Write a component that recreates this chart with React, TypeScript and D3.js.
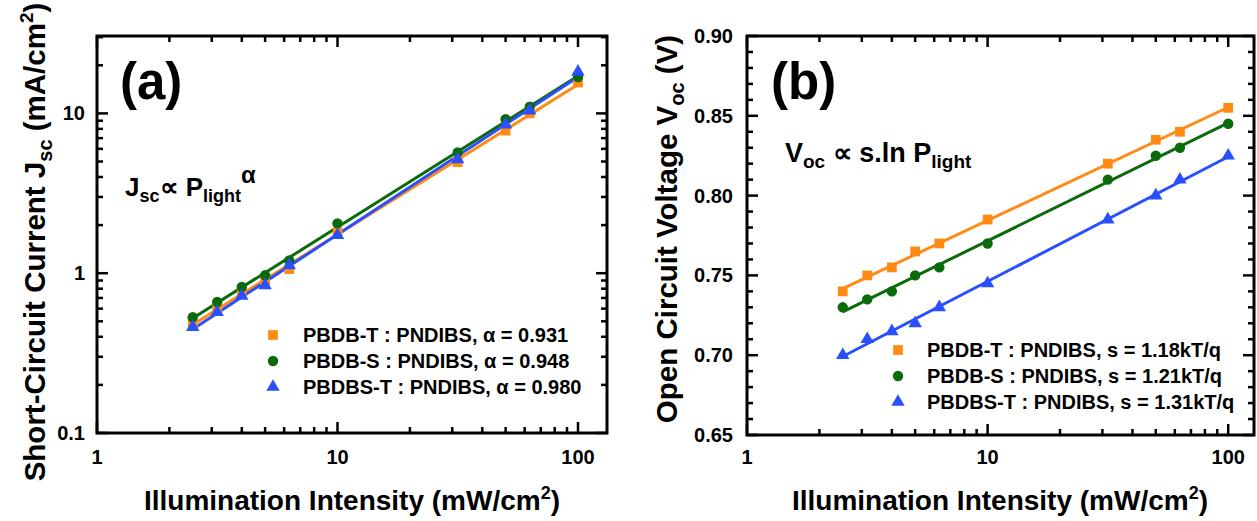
import React from 'react';
import * as d3 from 'd3';

// ---------- data ----------
const intensity = [2.5, 3.16, 4, 5, 6.3, 10, 31.6, 50, 63, 100];

const jscPBDBT = [0.49, 0.6, 0.75, 0.9, 1.06, 1.8, 4.95, 7.8, 10.0, 15.6];
const jscPBDBS = [0.53, 0.66, 0.82, 0.97, 1.2, 2.05, 5.7, 9.2, 11.0, 16.9];
const jscPBDBST = [0.46, 0.57, 0.72, 0.84, 1.12, 1.73, 5.15, 8.5, 10.4, 18.2];

const vocPBDBT = [0.74, 0.75, 0.755, 0.765, 0.77, 0.785, 0.82, 0.835, 0.84, 0.855];
const vocPBDBS = [0.73, 0.735, 0.74, 0.75, 0.755, 0.77, 0.81, 0.825, 0.83, 0.845];
const vocPBDBST = [0.70, 0.71, 0.715, 0.72, 0.73, 0.745, 0.785, 0.80, 0.81, 0.825];

const legendA = ['PBDB-T : PNDIBS, α = 0.931', 'PBDB-S : PNDIBS, α = 0.948', 'PBDBS-T : PNDIBS, α = 0.980'];
const legendB = ['PBDB-T : PNDIBS, s = 1.18kT/q', 'PBDB-S : PNDIBS, s = 1.21kT/q', 'PBDBS-T : PNDIBS, s = 1.31kT/q'];

const xTickLabels = ['1', '10', '100'];
const yTickLabelsA = ['0.1', '1', '10'];
const yTickLabelsB = ['0.65', '0.70', '0.75', '0.80', '0.85', '0.90'];

const colors = ['#FF8A14', '#0B6B0B', '#2A4FFF'];
const shapes = [d3.symbolSquare, d3.symbolCircle, d3.symbolTriangle];
const shapeSizes = [95, 85, 78];

const FONT = "Arial, 'Liberation Sans', Helvetica, sans-serif";

// least squares in (log10 x, f(y))
function fitLine(xs: number[], ys: number[], logY: boolean) {
  const X = xs.map(Math.log10);
  const Y = ys.map((v) => (logY ? Math.log10(v) : v));
  const mx = d3.mean(X)!;
  const my = d3.mean(Y)!;
  let sxy = 0, sxx = 0;
  X.forEach((x, i) => { sxy += (x - mx) * (Y[i] - my); sxx += (x - mx) * (x - mx); });
  const b = sxy / sxx;
  const a = my - b * mx;
  const f = (x: number) => {
    const v = a + b * Math.log10(x);
    return logY ? Math.pow(10, v) : v;
  };
  const x0 = d3.min(xs)!, x1 = d3.max(xs)!;
  return [[x0, f(x0)], [x1, f(x1)]] as [number, number][];
}

function Frame({ x0, x1, y0, y1 }: { x0: number; x1: number; y0: number; y1: number }) {
  return <rect x={x0} y={y0} width={x1 - x0} height={y1 - y0} fill="none" stroke="#000" strokeWidth={3} />;
}

type Tick = { v: number; major: boolean };

function logTicks(lo: number, hi: number): Tick[] {
  const out: Tick[] = [];
  for (let e = Math.floor(Math.log10(lo)); e <= Math.ceil(Math.log10(hi)); e++) {
    const d = Math.pow(10, e);
    for (let k = 1; k <= 9; k++) {
      const v = +(d * k).toPrecision(6);
      if (v >= lo * 0.999 && v <= hi) out.push({ v, major: k === 1 });
    }
  }
  return out;
}

function Panel({
  x, y, xTicks, yTicks, series, yLog,
}: {
  x: d3.ScaleLogarithmic<number, number>;
  y: any;
  xTicks: Tick[];
  yTicks: Tick[];
  series: number[][];
  yLog: boolean;
}) {
  const [x0, x1] = x.range();
  const [y1, y0] = y.range();
  const MAJ = 11, MIN = 6;
  const line = d3.line<[number, number]>().x((d) => x(d[0])).y((d) => y(d[1]));
  return (
    <g>
      {xTicks.map((t, i) => {
        const px = x(t.v);
        const L = t.major ? MAJ : MIN;
        return (
          <g key={'xt' + i} stroke="#000" strokeWidth={2.5}>
            <line x1={px} x2={px} y1={y1} y2={y1 - L} />
            <line x1={px} x2={px} y1={y0} y2={y0 + L} />
          </g>
        );
      })}
      {yTicks.map((t, i) => {
        const py = y(t.v);
        const L = t.major ? MAJ : MIN;
        return (
          <g key={'yt' + i} stroke="#000" strokeWidth={2.5}>
            <line x1={x0} x2={x0 + L} y1={py} y2={py} />
            <line x1={x1} x2={x1 - L} y1={py} y2={py} />
          </g>
        );
      })}
      {series.map((s, i) => (
        <path key={'l' + i} d={line(fitLine(intensity, s, yLog))!} fill="none" stroke={colors[i]} strokeWidth={3} />
      ))}
      {series.map((s, i) =>
        s.map((v, j) => (
          <path
            key={'m' + i + '-' + j}
            d={d3.symbol().type(shapes[i]).size(shapeSizes[i])()!}
            transform={`translate(${x(intensity[j])},${y(v)})`}
            fill={colors[i]}
          />
        ))
      )}
      <Frame x0={x0} x1={x1} y0={y0} y1={y1} />
    </g>
  );
}

export default function App() {
  const xa = d3.scaleLog().domain([1, 132]).range([97, 607]);
  const ya = d3.scaleLog().domain([0.1, 30.5]).range([433, 36]);
  const xb = d3.scaleLog().domain([1, 128]).range([747, 1254]);
  const yb = d3.scaleLinear().domain([0.65, 0.9]).range([435, 36]);

  const xTicksA = logTicks(1, 132);
  const yTicksA = logTicks(0.1, 30.5);
  const xTicksB = logTicks(1, 128);
  const yTicksB: Tick[] = d3.range(0, 26).map((i) => ({ v: 0.65 + i * 0.01, major: i % 5 === 0 }));

  const majorX = [1, 10, 100];
  const majorYA = [0.1, 1, 10];
  const majorYB = yTickLabelsB.map(Number);

  return (
    <svg
      width={1257}
      height={521}
      style={{ position: 'absolute', left: 0, top: 0, background: '#fff' }}
      fontFamily={FONT}
      fontWeight="bold"
    >
      <rect width={1257} height={521} fill="#fff" />

      {/* ===== Panel (a) ===== */}
      <Panel x={xa} y={ya} xTicks={xTicksA} yTicks={yTicksA} series={[jscPBDBT, jscPBDBS, jscPBDBST]} yLog={true} />
      {majorX.map((v, i) => (
        <text key={'xla' + i} x={xa(v)} y={464} textAnchor="middle" fontSize={20}>{xTickLabels[i]}</text>
      ))}
      {majorYA.map((v, i) => (
        <text key={'yla' + i} x={85} y={ya(v) + 7} textAnchor="end" fontSize={20}>{yTickLabelsA[i]}</text>
      ))}
      <text x={352} y={510} textAnchor="middle" fontSize={28}>
        Illumination Intensity (mW/cm<tspan fontSize={18} dy={-11}>2</tspan><tspan dy={11}>)</tspan>
      </text>
      <text transform="translate(45,242) rotate(-90)" textAnchor="middle" fontSize={29.5}>
        Short-Circuit Current J<tspan fontSize={20} dy={7}>sc</tspan><tspan dy={-7}> (mA/cm</tspan>
        <tspan fontSize={19} dy={-12}>2</tspan><tspan dy={12}>)</tspan>
      </text>
      <text x={120} y={99} fontSize={51}>(a)</text>
      <text x={125} y={196} fontSize={26}>
        J<tspan fontSize={18} dy={6}>sc</tspan><tspan dy={-6}>∝ P</tspan>
        <tspan fontSize={18} dy={6}>light</tspan><tspan fontSize={24} dy={-19}>α</tspan>
      </text>
      {legendA.map((t, i) => (
        <g key={'lga' + i}>
          <path d={d3.symbol().type(shapes[i]).size(shapeSizes[i])()!} transform={`translate(273,${335 + i * 26})`} fill={colors[i]} />
          <text x={303} y={342 + i * 26} fontSize={20}>{t}</text>
        </g>
      ))}

      {/* ===== Panel (b) ===== */}
      <Panel x={xb} y={yb} xTicks={xTicksB} yTicks={yTicksB} series={[vocPBDBT, vocPBDBS, vocPBDBST]} yLog={false} />
      {majorX.map((v, i) => (
        <text key={'xlb' + i} x={xb(v)} y={464} textAnchor="middle" fontSize={20}>{xTickLabels[i]}</text>
      ))}
      {majorYB.map((v, i) => (
        <text key={'ylb' + i} x={733} y={yb(v) + 7} textAnchor="end" fontSize={20}>{yTickLabelsB[i]}</text>
      ))}
      <text x={1000} y={510} textAnchor="middle" fontSize={28}>
        Illumination Intensity (mW/cm<tspan fontSize={18} dy={-11}>2</tspan><tspan dy={11}>)</tspan>
      </text>
      <text transform="translate(677,229) rotate(-90)" textAnchor="middle" fontSize={29.5}>
        Open Circuit Voltage V<tspan fontSize={20} dy={7}>oc</tspan><tspan dy={-7}> (V)</tspan>
      </text>
      <text x={771} y={99} fontSize={51}>(b)</text>
      <text x={785} y={162} fontSize={27}>
        V<tspan fontSize={19} dy={6}>oc</tspan><tspan dy={-6}> ∝ s.ln P</tspan>
        <tspan fontSize={19} dy={6}>light</tspan>
      </text>
      {legendB.map((t, i) => (
        <g key={'lgb' + i}>
          <path d={d3.symbol().type(shapes[i]).size(shapeSizes[i])()!} transform={`translate(898,${350 + i * 26})`} fill={colors[i]} />
          <text x={927} y={357 + i * 26} fontSize={20}>{t}</text>
        </g>
      ))}
    </svg>
  );
}
